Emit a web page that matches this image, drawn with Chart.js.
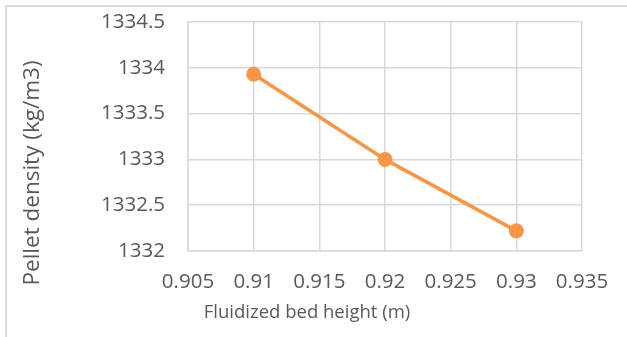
<!DOCTYPE html>
<html>
<head>
<meta charset="utf-8">
<script src="https://cdn.jsdelivr.net/npm/chart.js@4"></script>
<style>
  html, body { margin: 0; padding: 0; background: #fff; }
  #frame {
    position: absolute; left: 5px; top: 5px; width: 622px; height: 332px;
    border-top: 2px solid #d9d9d9; border-left: 2px solid #d9d9d9;
    box-sizing: border-box;
  }
  #chart { position: absolute; left: 0; top: 0; }
</style>
</head>
<body>
<div id="frame"></div>
<canvas id="chart" width="627" height="337"></canvas>
<script>
// bed height (m) vs pellet density (kg/m3)
const bedHeight = [0.91, 0.92, 0.93];
const pelletDensity = [1333.93, 1333.0, 1332.22];

const xTicks = [0.905, 0.91, 0.915, 0.92, 0.925, 0.93, 0.935];
const yTicks = [1332, 1332.5, 1333, 1333.5, 1334, 1334.5];

const textColor = '#595959';
const gridColor = '#d9d9d9';
const lineColor = '#f79646';
const fontFamily = '"Open Sans", "Liberation Sans", sans-serif';

// both axis titles are offset from the plot centre, so draw them by hand
const axisTitlePlugin = {
  id: 'axisTitles',
  afterDraw(chart) {
    const ctx = chart.ctx;
    const area = chart.chartArea;
    ctx.save();
    ctx.fillStyle = textColor;
    ctx.textAlign = 'center';
    ctx.textBaseline = 'middle';

    ctx.font = '18.5px ' + fontFamily;
    ctx.fillText('Fluidized bed height (m)', area.left + 119, area.bottom + 62);

    ctx.translate(33, area.top + 151);
    ctx.rotate(-Math.PI / 2);
    ctx.font = '22.5px ' + fontFamily;
    ctx.fillText('Pellet density (kg/m3)', 0, 0);
    ctx.restore();
  }
};

const ctx = document.getElementById('chart').getContext('2d');
new Chart(ctx, {
  type: 'line',
  data: {
    datasets: [{
      data: bedHeight.map((x, i) => ({ x, y: pelletDensity[i] })),
      borderColor: lineColor,
      backgroundColor: lineColor,
      borderWidth: 3.5,
      pointRadius: 7.5,
      pointBorderWidth: 0,
      pointHoverRadius: 7.5,
      tension: 0
    }]
  },
  options: {
    responsive: false,
    animation: false,
    layout: { padding: { top: 22, right: 45, left: 0, bottom: 0 } },
    plugins: {
      legend: { display: false },
      tooltip: { enabled: false }
    },
    scales: {
      x: {
        type: 'linear',
        min: 0.905,
        max: 0.935,
        afterBuildTicks: scale => { scale.ticks = xTicks.map(v => ({ value: v })); },
        afterFit: scale => {
          scale.height = 86;
          scale.paddingLeft = 0;
          scale.paddingRight = 0;
        },
        grid: { color: gridColor, lineWidth: 1.5, drawTicks: false },
        border: { color: gridColor, width: 1.5 },
        ticks: {
          color: textColor,
          padding: 19,
          maxRotation: 0,
          font: { family: fontFamily, size: 20.5 },
          callback: v => String(Number(v.toFixed(3)))
        }
      },
      y: {
        min: 1332,
        max: 1334.5,
        afterBuildTicks: scale => { scale.ticks = yTicks.map(v => ({ value: v })); },
        afterFit: scale => {
          scale.width = 188;
          scale.paddingTop = 0;
          scale.paddingBottom = 0;
        },
        grid: { color: gridColor, lineWidth: 1.5, drawTicks: false },
        border: { color: gridColor, width: 1.5 },
        ticks: {
          color: textColor,
          padding: 23,
          font: { family: fontFamily, size: 20.5 },
          callback: v => String(v)
        }
      }
    }
  },
  plugins: [axisTitlePlugin]
});
</script>
</body>
</html>
